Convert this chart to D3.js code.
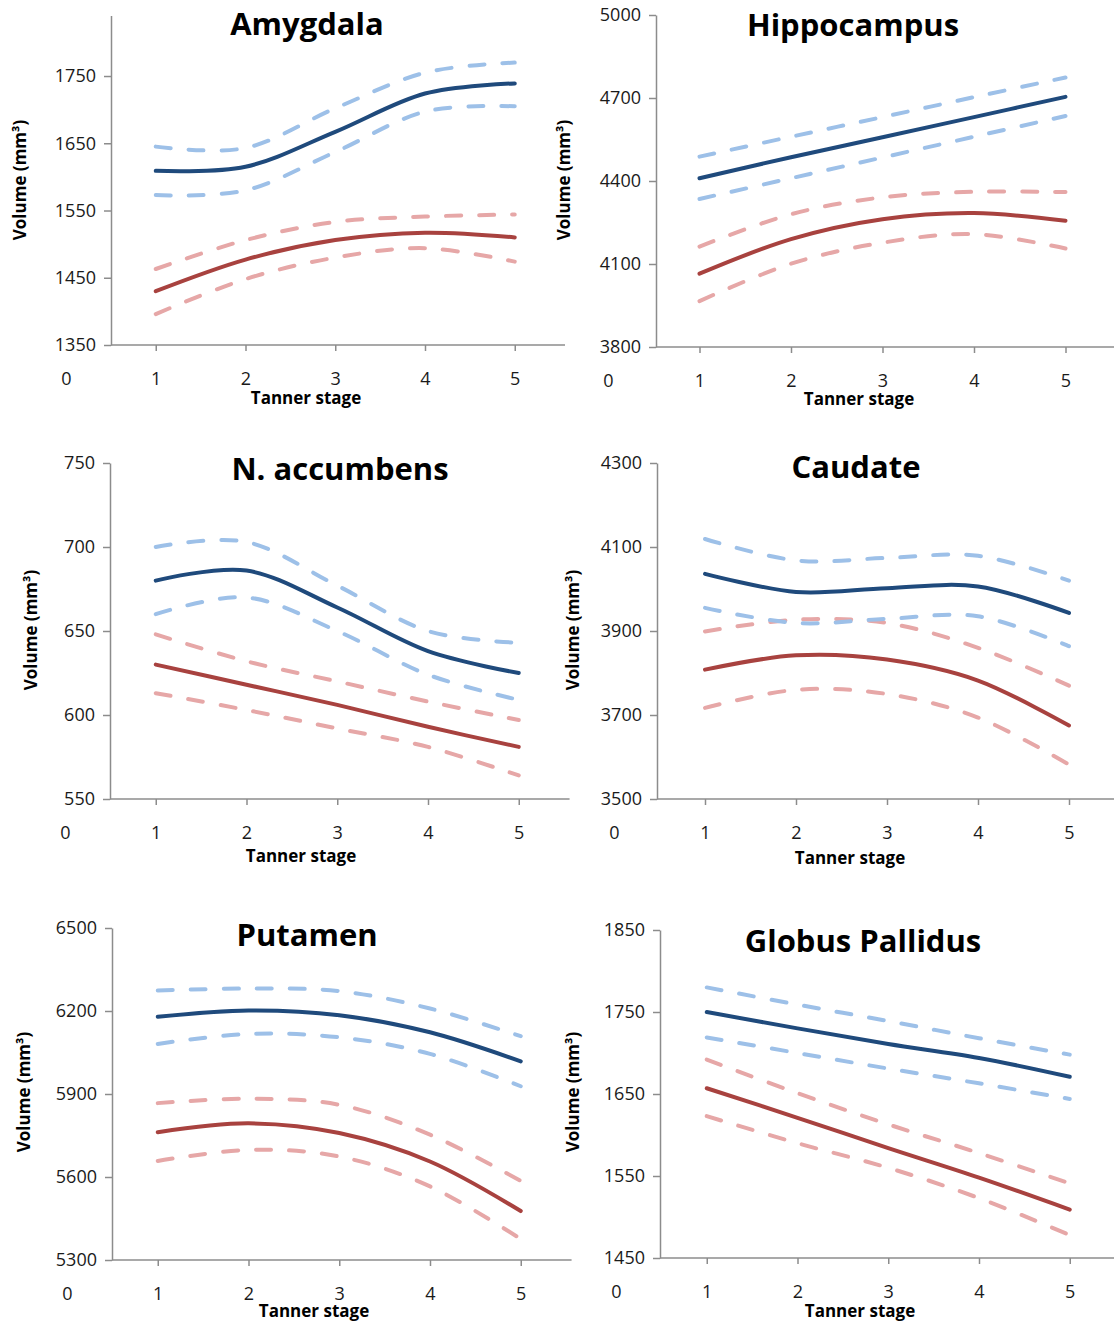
<!DOCTYPE html>
<meta charset="utf-8">
<style>
  body { margin: 0; background: #fff; }
  text { font-family: "Open Sans", sans-serif; fill: #1a1a1a; }
  .axis .tick text { font-size: 18px; }
  .axis path, .axis line { stroke: #8c8c8c; stroke-width: 1.5; }
  .title { font-size: 31px; font-weight: bold; fill: #000; }
  .alabel { font-size: 17px; font-weight: bold; fill: #000; }
</style>
<body>
<svg id="chart" width="1114" height="1322"></svg>
<script src="https://d3js.org/d3.v7.min.js"></script>
<script>
// data
var stages = [1, 2, 3, 4, 5];
var regions = ["Amygdala", "Hippocampus", "N. accumbens", "Caudate", "Putamen", "Globus Pallidus"];
var yTicks = [
  [1350, 1450, 1550, 1650, 1750],
  [3800, 4100, 4400, 4700, 5000],
  [550, 600, 650, 700, 750],
  [3500, 3700, 3900, 4100, 4300],
  [5300, 5600, 5900, 6200, 6500],
  [1450, 1550, 1650, 1750, 1850]
];
var yTop = [1840, 5000, 750, 4300, 6500, 1850];

var blueMean = [
  [1609, 1615, 1667, 1724, 1739],
  [4410, 4486, 4558, 4631, 4704],
  [680, 686, 664, 638, 625],
  [4036, 3993, 4002, 4006, 3943],
  [6179, 6202, 6185, 6123, 6018],
  [1750, 1730, 1711, 1694, 1671]
];
var blueUpper = [
  [1645, 1643, 1702, 1755, 1770],
  [4488, 4560, 4631, 4703, 4774],
  [700, 703, 677, 650, 643],
  [4119, 4068, 4074, 4079, 4020],
  [6274, 6281, 6272, 6209, 6109],
  [1780, 1759, 1739, 1718, 1698]
];
var blueLower = [
  [1573, 1580, 1637, 1697, 1705],
  [4335, 4410, 4485, 4560, 4635],
  [660, 670, 650, 624, 609],
  [3955, 3919, 3929, 3935, 3864],
  [6081, 6117, 6105, 6045, 5928],
  [1719, 1700, 1681, 1663, 1644]
];
var redMean = [
  [1430, 1477, 1506, 1517, 1510],
  [4065, 4190, 4262, 4284, 4256],
  [630, 618, 606, 593, 581],
  [3808, 3842, 3832, 3782, 3675],
  [5762, 5794, 5759, 5656, 5477],
  [1657, 1621, 1584, 1548, 1509]
];
var redUpper = [
  [1463, 1506, 1533, 1541, 1544],
  [4163, 4280, 4341, 4361, 4360],
  [648, 632, 620, 608, 597],
  [3899, 3927, 3919, 3860, 3770],
  [5867, 5883, 5861, 5753, 5586],
  [1692, 1651, 1613, 1578, 1541]
];
var redLower = [
  [1396, 1448, 1480, 1494, 1474],
  [3966, 4101, 4177, 4208, 4156],
  [613, 603, 592, 581, 564],
  [3717, 3760, 3750, 3694, 3582],
  [5658, 5698, 5674, 5566, 5376],
  [1623, 1590, 1560, 1523, 1478]
];

// panel placement
var layout = [
  {ax: 111, ay: 345, top: 15.5, x0: 66, unit: 89.75, xEnd: 5.56, tx: 307, ty: 35, lx: 306, ly: 404, vx: 20, vy: 180},
  {ax: 656, ay: 347, top: 15, x0: 608, unit: 91.5, xEnd: 5.7, tx: 853, ty: 36, lx: 859, ly: 405, vx: 564, vy: 180},
  {ax: 110, ay: 799, top: 463, x0: 65, unit: 90.75, xEnd: 5.56, tx: 340, ty: 480, lx: 301, ly: 862, vx: 31, vy: 630},
  {ax: 657, ay: 799, top: 463, x0: 614, unit: 91, xEnd: 5.7, tx: 856, ty: 478, lx: 850, ly: 864, vx: 573, vy: 630},
  {ax: 112, ay: 1260, top: 928, x0: 67, unit: 90.75, xEnd: 5.56, tx: 307, ty: 946, lx: 314, ly: 1317, vx: 24, vy: 1092},
  {ax: 660, ay: 1258, top: 930, x0: 616, unit: 90.75, xEnd: 5.7, tx: 863, ty: 952, lx: 860, ly: 1317, vx: 573, vy: 1092}
];

var darkBlue = "#1f4a7c", lightBlue = "#9dc0e8", darkRed = "#a8423f", lightRed = "#e6a7a7";

var svg = d3.select("#chart");

layout.forEach(function (p, i) {
  var x = d3.scaleLinear().domain([0, 5]).range([p.x0, p.x0 + 5 * p.unit]);
  var y = d3.scaleLinear().domain([yTicks[i][0], yTop[i]]).range([p.ay, p.top]);
  var g = svg.append("g");

  g.append("g")
    .attr("class", "axis")
    .attr("transform", "translate(" + p.ax + ",0)")
    .call(d3.axisLeft(y).tickValues(yTicks[i]).tickSize(7).tickPadding(8).tickSizeOuter(0).tickFormat(d3.format("d")));

  var xa = g.append("g")
    .attr("class", "axis")
    .attr("transform", "translate(0," + p.ay + ")")
    .call(d3.axisBottom(x).tickValues([0].concat(stages)).tickSize(6).tickPadding(21).tickFormat(d3.format("d")));
  xa.select(".domain").remove();
  xa.selectAll(".tick").filter(function (d) { return d === 0; }).select("line").remove();
  xa.append("line")
    .attr("x1", p.ax).attr("x2", x(p.xEnd))
    .attr("y1", 0).attr("y2", 0);

  g.append("text").attr("class", "title")
    .attr("x", p.tx).attr("y", p.ty)
    .attr("text-anchor", "middle")
    .text(regions[i]);

  g.append("text").attr("class", "alabel")
    .attr("x", p.lx).attr("y", p.ly)
    .attr("text-anchor", "middle")
    .text("Tanner stage");

  g.append("text").attr("class", "alabel")
    .attr("transform", "translate(" + p.vx + "," + p.vy + ") rotate(-90)")
    .attr("dy", "0.35em")
    .attr("text-anchor", "middle")
    .text("Volume (mm³)");

  var line = d3.line()
    .x(function (d, j) { return x(stages[j]); })
    .y(function (d) { return y(d); })
    .curve(d3.curveCardinal.tension(0));

  var series = [
    {v: redUpper[i], c: lightRed, dash: true},
    {v: redLower[i], c: lightRed, dash: true},
    {v: blueUpper[i], c: lightBlue, dash: true},
    {v: blueLower[i], c: lightBlue, dash: true},
    {v: redMean[i], c: darkRed, dash: false},
    {v: blueMean[i], c: darkBlue, dash: false}
  ];

  g.selectAll(".series")
    .data(series)
    .enter().append("path")
    .attr("class", "series")
    .attr("d", function (d) { return line(d.v); })
    .attr("fill", "none")
    .attr("stroke", function (d) { return d.c; })
    .attr("stroke-width", 4)
    .attr("stroke-linecap", "round")
    .attr("stroke-dasharray", function (d) { return d.dash ? "15,18" : null; });
});
</script>
</body>
